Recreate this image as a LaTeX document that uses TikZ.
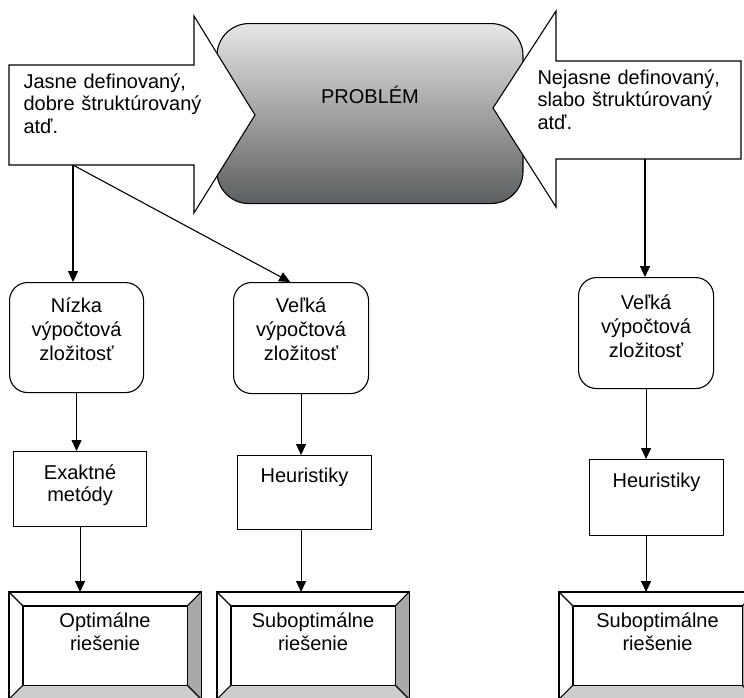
\documentclass[tikz,border=0pt]{standalone}
\usepackage{fontspec}
\setmainfont{Liberation Sans}
\usetikzlibrary{arrows.meta,calc}

\definecolor{probtop}{RGB}{230,230,230}
\definecolor{probbottom}{RGB}{92,95,97}
\definecolor{bevelside}{RGB}{168,168,168}
\definecolor{bevelbase}{RGB}{205,205,205}

\begin{document}
\begin{tikzpicture}[x=1pt,y=-1pt,line width=1.1pt]
        \tikzstyle{every node}+=[inner sep=0pt]
        \tikzstyle{popis}=[anchor=base west, text width=190pt, align=left, font=\fontsize{20}{22.5}\selectfont]
        \tikzstyle{zlozitost}=[draw, anchor=north west, rounded corners=18pt, text width=134pt, align=center, text height=30pt, text depth=80pt, font=\fontsize{20}{24}\selectfont]
        \tikzstyle{metoda}=[draw, anchor=north west, text width=133pt, align=center, text height=28pt, text depth=47pt, font=\fontsize{20}{21.5}\selectfont]
        \tikzstyle{riesenie}=[fill=white, anchor=north west, text width=191pt, align=center, text height=35pt, text depth=71pt, font=\fontsize{20}{23}\selectfont]
        \tikzstyle{sipka}=[-{Triangle[length=11pt,width=10pt]}]
        \useasboundingbox (0,0) rectangle (744,697);
        \clip (0,0) rectangle (744,697);
        % stredny blok
        \node[draw, anchor=north, rounded corners=32pt, top color=probtop, bottom color=probbottom, minimum width=306pt, text height=80pt, text depth=100pt, font=\fontsize{20}{24}\selectfont] (problem) at (370,23) {PROBLÉM};
        % sipky do problemu
        \draw [black, fill=white] (9,65) -- (194,65) -- (194,16) -- (255,115) -- (194,213) -- (194,165) -- (9,165) -- cycle;
        \node[popis] (jasne) at (23,88) {Jasne definovaný,\\dobre štruktúrovaný\\atď.};
        \coordinate (jasne-foot) at (73,165);
        \draw [black, fill=white] (741,61) -- (556,61) -- (556,11) -- (493,108) -- (556,207) -- (556,159) -- (741,159) -- cycle;
        \node[popis] (nejasne) at (537,84) {Nejasne definovaný,\\slabo štruktúrovaný\\atď.};
        \coordinate (nejasne-foot) at (645,159);
        % zlozitost
        \node[zlozitost] (nizka) at (9,282) {Nízka\\výpočtová\\zložitosť};
        \node[zlozitost, text width=135pt, text depth=81pt] (velka) at (233,282) {Veľká\\výpočtová\\zložitosť};
        \node[zlozitost, text width=135pt, text height=32pt, text depth=79pt] (velka2) at (578,277) {Veľká\\výpočtová\\zložitosť};
        % metody
        \node[metoda] (exakt) at (13,451) {Exaktné\\metódy};
        \node[metoda, text width=134pt, text height=27pt] (heur) at (237,455) {Heuristiky};
        \node[metoda, text width=134pt, text depth=48pt] (heur2) at (589,459) {Heuristiky};
        % riesenia
        \node[riesenie] (optim) at (9,592) {Optimálne\\riešenie};
        \node[riesenie] (subopt) at (217,592) {Suboptimálne\\riešenie};
        \node[riesenie, text width=196pt] (subopt2) at (559,592) {Suboptimálne\\riešenie};
        \foreach \n in {optim,subopt,subopt2}{
          \fill [bevelside] (\n.north east) -- (\n.south east) -- ($(\n.south east)+(-14,-14)$) -- ($(\n.north east)+(-14,14)$) -- cycle;
          \fill [bevelbase] (\n.south west) -- (\n.south east) -- ($(\n.south east)+(-14,-14)$) -- ($(\n.south west)+(14,-14)$) -- cycle;
          \draw [black] (\n.north west) rectangle (\n.south east);
          \draw [black] ($(\n.north west)+(14,14)$) rectangle ($(\n.south east)+(-14,-14)$);
          \draw [black] (\n.north west) -- ++(14,14);
          \draw [black] (\n.north east) -- ++(-14,14);
          \draw [black] (\n.south west) -- ++(14,-14);
          \draw [black] (\n.south east) -- ++(-14,-14);
        }
        % spojnice
        \draw [sipka] (jasne-foot) -- (jasne-foot |- nizka.north);
        \draw [sipka] (jasne-foot) -- ($(velka.north west)!0.42!(velka.north east)$);
        \draw [sipka] (nejasne-foot) -- (nejasne-foot |- velka2.north);
        \draw [sipka] (nizka.south) -- (nizka.south |- exakt.north);
        \draw [sipka] (exakt.south) -- (exakt.south |- optim.north);
        \draw [sipka] (velka.south) -- (velka.south |- heur.north);
        \draw [sipka] (velka.south |- heur.south) -- (velka.south |- subopt.north);
        \draw [sipka] (velka2.south) -- (velka2.south |- heur2.north);
        \draw [sipka] (velka2.south |- heur2.south) -- (velka2.south |- subopt2.north);
\end{tikzpicture}
\end{document}
